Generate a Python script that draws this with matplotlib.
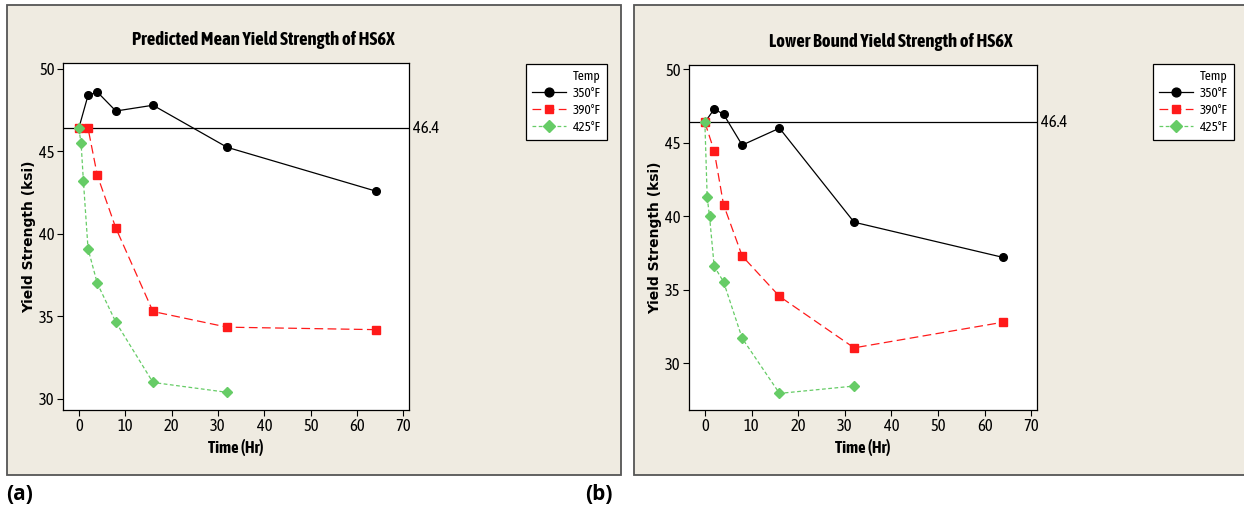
import matplotlib
matplotlib.use("Agg")
import matplotlib.pyplot as plt
from matplotlib.patches import Rectangle
from matplotlib import transforms

# ---------------------------------------------------------------------------
# Data: yield strength (ksi) vs. aging time (hr) for three temperatures
# ---------------------------------------------------------------------------

time_350 = [0, 2, 4, 8, 16, 32, 64]
time_390 = [0, 2, 4, 8, 16, 32, 64]
time_425 = [0, 0.5, 1, 2, 4, 8, 16, 32]

mean_350 = [46.4, 48.4, 48.6, 47.45, 47.8, 45.25, 42.6]
mean_390 = [46.4, 46.4, 43.55, 40.35, 35.3, 34.35, 34.2]
mean_425 = [46.4, 45.5, 43.2, 39.1, 37.0, 34.65, 31.0, 30.4]

lower_350 = [46.4, 47.3, 46.95, 44.85, 46.0, 39.6, 37.2]
lower_390 = [46.4, 44.45, 40.8, 37.3, 34.55, 31.05, 32.8]
lower_425 = [46.4, 41.3, 40.0, 36.6, 35.55, 31.7, 27.95, 28.45]

temp_labels = ["350°F", "390°F", "425°F"]
ref_strength = 46.4

W, H = 1244, 507
BEIGE = "#efebe1"
NARROW = ["Asap Condensed", "DejaVu Sans"]


def fx(px):
    return px / W


def fy(py):
    return 1 - py / H


fig = plt.figure(figsize=(W / 100, H / 100), dpi=100)
fig.patch.set_facecolor("white")


def panel(x0, x1, y0, y1):
    fig.patches.append(Rectangle((fx(x0), fy(y1)), fx(x1 - x0), (y1 - y0) / H,
                                 transform=fig.transFigure, facecolor=BEIGE,
                                 edgecolor="#555555", linewidth=1.3, zorder=-1))


def draw(ax_box, leg_xy, title, times, values, ylim, yticks):
    left, right, top, bottom = ax_box
    ax = fig.add_axes([fx(left), fy(bottom), fx(right - left), (bottom - top) / H])
    ax.set_facecolor("white")

    styles = [
        dict(color="black", marker="o", ms=5.5, ls="-", lw=0.9),
        dict(color="#ff1a1a", marker="s", ms=5.5, ls=(0, (7, 3.5)), lw=0.9),
        dict(color="#66cc66", marker="D", ms=5, ls=(0, (3, 2)), lw=0.9),
    ]
    for t, v, lab, st in zip(times, values, temp_labels, styles):
        ax.plot(t, v, label=lab, **st, zorder=3)

    ax.axhline(ref_strength, color="black", lw=0.9, zorder=2)
    trans = transforms.blended_transform_factory(ax.transAxes, ax.transData)
    ax.text(1.012, ref_strength, f"{ref_strength}", transform=trans,
            va="center", ha="left", fontsize=12, family=NARROW)

    ax.set_xlim(-3.4, 71.2)
    ax.set_ylim(*ylim)
    ax.set_xticks(range(0, 71, 10))
    ax.set_yticks(yticks)
    ax.tick_params(direction="out", length=4, width=0.8, labelsize=12, pad=2)
    for lbl in ax.get_xticklabels() + ax.get_yticklabels():
        lbl.set_family(NARROW)
    for s in ax.spines.values():
        s.set_linewidth(0.9)

    # the title sits centred over plot + legend rather than the plot alone
    ax.set_title(title, fontsize=13.5, fontweight="bold", family=NARROW, pad=13, x=0.58)
    ax.set_xlabel("Time (Hr)", fontsize=12, fontweight="bold", family=NARROW, labelpad=3)
    ax.set_ylabel("Yield Strength (ksi)", fontsize=10, fontweight="bold",
                  family="DejaVu Sans", labelpad=2)

    leg = ax.legend(title="Temp", loc="upper left",
                    bbox_to_anchor=(fx(leg_xy[0]), fy(leg_xy[1])),
                    bbox_transform=fig.transFigure, borderaxespad=0,
                    fancybox=False, edgecolor="black", framealpha=1,
                    prop={"family": NARROW, "size": 9.5},
                    title_fontproperties={"family": NARROW, "size": 9.5},
                    alignment="right", handlelength=2.6, handletextpad=0.5,
                    labelspacing=0.3, borderpad=0.45, markerscale=1.15)
    leg.get_frame().set_linewidth(0.9)
    return ax


panel(7, 621, 5, 475)
panel(634, 1250, 5, 475)

draw((63, 409, 63, 410), (526, 64), "Predicted Mean Yield Strength of HS6X",
     [time_350, time_390, time_425], [mean_350, mean_390, mean_425],
     (29.33, 50.36), [30, 35, 40, 45, 50])

draw((689, 1037, 65, 410), (1153, 64), "Lower Bound Yield Strength of HS6X",
     [time_350, time_390, time_425], [lower_350, lower_390, lower_425],
     (26.82, 50.3), [30, 35, 40, 45, 50])

fig.text(fx(6), fy(495), "(a)", fontsize=15, fontweight="bold", family="Open Sans",
         va="center", ha="left")
fig.text(fx(585), fy(495), "(b)", fontsize=15, fontweight="bold", family="Open Sans",
         va="center", ha="left")

fig.savefig("out.png", dpi=100, facecolor=fig.get_facecolor())
